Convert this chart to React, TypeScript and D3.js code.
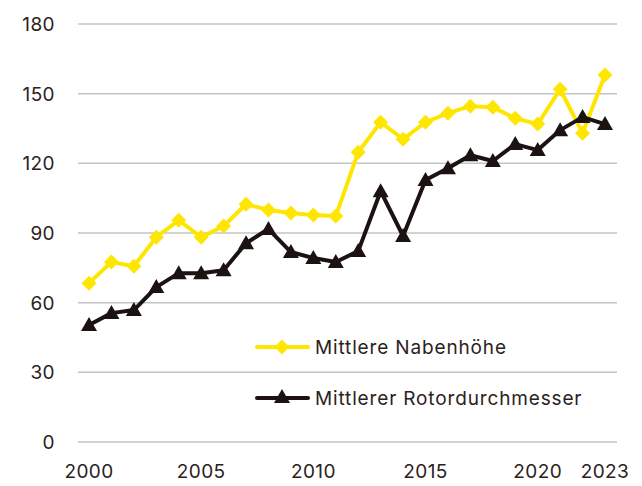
import * as d3 from "d3";

const years = d3.range(2000, 2024);
const nabenhoehe = [
  68.4, 77.5, 75.7, 88.2, 95.5, 88.2, 93, 102.4, 99.9, 98.6, 97.7, 97.3,
  124.8, 137.7, 130.4, 137.7, 141.6, 144.6, 144.2, 139.4, 136.9, 151.9, 133, 158,
];
const rotor = [
  50.4, 55.5, 56.8, 66.7, 72.7, 72.7, 74, 85.6, 91.7, 81.8, 79.2, 77.5, 82.2,
  108, 88.7, 112.8, 117.9, 123.5, 121, 128.3, 125.7, 134.3, 139.9, 136.9,
];
const yTicks = [0, 30, 60, 90, 120, 150, 180];
const xTicks = [2000, 2005, 2010, 2015, 2020, 2023];

const width = 642;
const height = 486;
const yellow = "#ffe600";
const dark = "#1c1212";
const textColor = "#2b2220";
const font = "Inter, 'Noto Sans', sans-serif";

export default function App() {
  const x = d3.scaleLinear([2000, 2023], [89, 605]);
  const y = d3.scaleLinear([0, 180], [442, 24]);
  const line = d3
    .line<number>()
    .x((d, i) => x(years[i]))
    .y((d) => y(d));

  const diamond = (cx: number, cy: number, r = 7.5) =>
    `M${cx},${cy - r}L${cx + r},${cy}L${cx},${cy + r}L${cx - r},${cy}Z`;
  const triangle = (cx: number, cy: number, s = 8) =>
    `M${cx},${cy - s}L${cx + s},${cy + s * 0.75}L${cx - s},${cy + s * 0.75}Z`;

  return (
    <svg
      width={width}
      height={height}
      style={{ position: "absolute", left: 0, top: 0, background: "#fff" }}
      fontFamily={font}
    >
      {/* grid + y labels */}
      {yTicks.map((t) => (
        <g key={t}>
          <line x1={78} x2={617} y1={y(t)} y2={y(t)} stroke="#c4c4c4" strokeWidth={1.5} />
          <text
            x={55}
            y={y(t)}
            dy="0.36em"
            textAnchor="end"
            fontSize={19}
            letterSpacing={0.4}
            fill={textColor}
          >
            {t}
          </text>
        </g>
      ))}
      {/* x labels */}
      {xTicks.map((t) => (
        <text
          key={t}
          x={x(t)}
          y={478}
          textAnchor="middle"
          fontSize={19}
          letterSpacing={0.4}
          fill={textColor}
        >
          {t}
        </text>
      ))}
      {/* Nabenhöhe */}
      <path d={line(nabenhoehe) ?? ""} fill="none" stroke={yellow} strokeWidth={4} strokeLinejoin="round" />
      {nabenhoehe.map((d, i) => (
        <path key={i} d={diamond(x(years[i]), y(d))} fill={yellow} />
      ))}
      {/* Rotordurchmesser */}
      <path d={line(rotor) ?? ""} fill="none" stroke={dark} strokeWidth={4} strokeLinejoin="round" />
      {rotor.map((d, i) => (
        <path key={i} d={triangle(x(years[i]), y(d))} fill={dark} />
      ))}
      {/* legend */}
      <g fontSize={19} letterSpacing={0.85} fill={textColor}>
        <line x1={257} x2={308} y1={347} y2={347} stroke={yellow} strokeWidth={4} strokeLinecap="round" />
        <path d={diamond(282, 347)} fill={yellow} />
        <text x={315} y={354}>
          Mittlere Nabenhöhe
        </text>
        <line x1={257} x2={308} y1={398} y2={398} stroke={dark} strokeWidth={4} strokeLinecap="round" />
        <path d={triangle(282, 397)} fill={dark} />
        <text x={315} y={405}>
          Mittlerer Rotordurchmesser
        </text>
      </g>
    </svg>
  );
}
